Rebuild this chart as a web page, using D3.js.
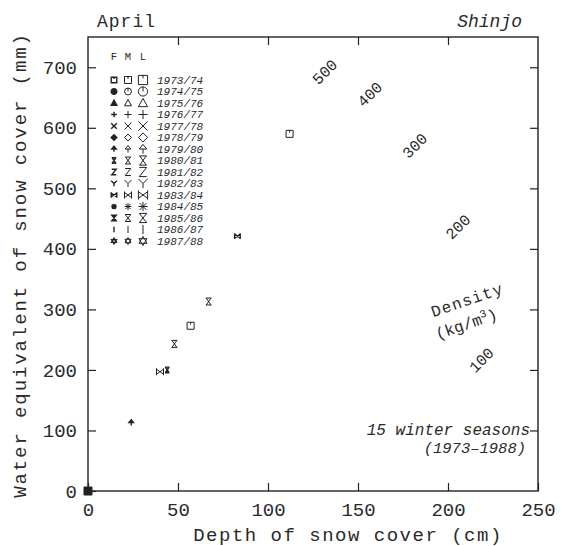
<!DOCTYPE html>
<html>
<head>
<meta charset="utf-8">
<script src="https://cdn.jsdelivr.net/npm/d3@7"></script>
<style>
  html, body { margin: 0; padding: 0; background: #fff; }
  svg { display: block; }
  text { font-family: "Liberation Mono", "DejaVu Sans Mono", monospace; fill: #2a2a2a; }
</style>
</head>
<body>
<svg id="chart" width="567" height="546"></svg>
<script>
// ---------------- data ----------------
const seasons = ["1973/74","1974/75","1975/76","1976/77","1977/78","1978/79","1979/80",
                 "1980/81","1981/82","1982/83","1983/84","1984/85","1985/86","1986/87","1987/88"];
const seasonSymbols = ["sqDot","circTick","triangle","plus","cross","diamond","arrow",
                       "xBars","zed","wye","xSideBars","asterisk","hourglass","bar","star"];
const periods = ["F","M","L"];

// observed points (depth cm, water equivalent mm)
const pointDepth  = [0,   24,  40,  44,  48,  57,  67,  83,  112];
const pointSWE    = [0,   113, 197, 200, 243, 273, 313, 421, 590];
const pointSymbol = ["filledSquare","arrow","xSideBars","xBars","xBars","sqDot","xBars","xSideBars","sqDot"];
const pointPeriod = ["L","F","M","F","M","M","M","F","M"];

// density isoline labels (kg/m3) and their anchor (depth, SWE)
const densityValues = [500, 400, 300, 200, 100];
const densityLabelDepth = [132, 157, 182, 206, 219];
const densityLabelSWE   = [691, 654, 569, 435, 215];

const xTicks = [0, 50, 100, 150, 200, 250];
const yTicks = [0, 100, 200, 300, 400, 500, 600, 700];

// ---------------- chart ----------------
const svg = d3.select("#chart");
const x = d3.scaleLinear().domain([0, 250]).range([88, 538]);
const y = d3.scaleLinear().domain([0, 750]).range([491, 37]);
const ink = "#222";
const FONT = "'Liberation Mono', 'DejaVu Sans Mono', monospace";

// frame
svg.append("rect")
  .attr("x", x(0)).attr("y", y(750))
  .attr("width", x(250) - x(0)).attr("height", y(0) - y(750))
  .attr("fill", "none").attr("stroke", ink).attr("stroke-width", 1.4);

function styleAxis(g, labels) {
  g.select(".domain").remove();
  g.selectAll(".tick line").attr("stroke", ink).attr("stroke-width", 1.2);
  g.selectAll(".tick text")
    .style("font-family", FONT)
    .attr("font-size", 19).attr("fill", "#2a2a2a");
  if (!labels) g.selectAll(".tick text").remove();
}

svg.append("g").attr("transform", `translate(${x(0)},0)`)
  .call(d3.axisLeft(y).tickValues(yTicks).tickSize(-8).tickPadding(11).tickFormat(d3.format("d")))
  .call(g => styleAxis(g, true));
svg.append("g").attr("transform", `translate(${x(250)},0)`)
  .call(d3.axisRight(y).tickValues(yTicks.filter(d => d > 0)).tickSize(-8))
  .call(g => styleAxis(g, false));
svg.append("g").attr("transform", `translate(0,${y(0)})`)
  .call(d3.axisBottom(x).tickValues(xTicks).tickSize(-8).tickPadding(12).tickFormat(d3.format("d")))
  .call(g => styleAxis(g, true));
svg.append("g").attr("transform", `translate(0,${y(750)})`)
  .call(d3.axisTop(x).tickValues(xTicks.filter(d => d > 0 && d < 250)).tickSize(-8))
  .call(g => styleAxis(g, false));

// axis titles
svg.append("text")
  .attr("transform", `translate(26,${(y(0) + y(750)) / 2 + 1}) rotate(-90)`)
  .attr("text-anchor", "middle").attr("font-size", 19)
  .style("letter-spacing", "1.9px")
  .text("Water equivalent of snow cover (mm)");
svg.append("text")
  .attr("x", 348).attr("y", 541)
  .attr("text-anchor", "middle").attr("font-size", 19)
  .style("letter-spacing", "1.5px")
  .text("Depth of snow cover (cm)");

svg.append("text").attr("x", 97).attr("y", 27).attr("font-size", 18)
  .style("letter-spacing", "1px").text("April");
svg.append("text").attr("x", 522).attr("y", 27).attr("font-size", 18)
  .attr("text-anchor", "end").attr("font-style", "italic").text("Shinjo");

// ---------------- symbols ----------------
function symPath(type, s) {
  const p = d3.path();
  switch (type) {
    case "sqDot":
      p.rect(-s, -s, 2 * s, 2 * s);
      p.moveTo(0, -s); p.lineTo(0, -s * 0.35);
      break;
    case "filledSquare":
      p.rect(-s, -s, 2 * s, 2 * s);
      break;
    case "circTick":
      p.moveTo(s, 0); p.arc(0, 0, s, 0, 2 * Math.PI);
      p.moveTo(0, -s); p.lineTo(0, 0);
      break;
    case "triangle":
      p.moveTo(0, -s); p.lineTo(s, s * 0.8); p.lineTo(-s, s * 0.8); p.closePath();
      break;
    case "plus":
      p.moveTo(-s, 0); p.lineTo(s, 0); p.moveTo(0, -s); p.lineTo(0, s);
      break;
    case "cross":
      p.moveTo(-s, -s); p.lineTo(s, s); p.moveTo(s, -s); p.lineTo(-s, s);
      break;
    case "diamond":
      p.moveTo(0, -s); p.lineTo(s, 0); p.lineTo(0, s); p.lineTo(-s, 0); p.closePath();
      break;
    case "arrow":
      p.moveTo(0, -s); p.lineTo(s * 0.8, 0); p.lineTo(-s * 0.8, 0); p.closePath();
      p.moveTo(0, 0); p.lineTo(0, s);
      break;
    case "xBars":
      p.moveTo(-s * 0.8, -s); p.lineTo(s * 0.8, -s);
      p.moveTo(-s * 0.8, s); p.lineTo(s * 0.8, s);
      p.moveTo(-s * 0.7, -s); p.lineTo(s * 0.7, s);
      p.moveTo(s * 0.7, -s); p.lineTo(-s * 0.7, s);
      break;
    case "zed":
      p.moveTo(-s * 0.8, -s); p.lineTo(s * 0.8, -s); p.lineTo(-s * 0.8, s); p.lineTo(s * 0.8, s);
      break;
    case "wye":
      p.moveTo(-s, -s); p.lineTo(0, 0); p.lineTo(s, -s); p.moveTo(0, 0); p.lineTo(0, s);
      break;
    case "xSideBars":
      p.moveTo(-s, -s); p.lineTo(-s, s); p.moveTo(s, -s); p.lineTo(s, s);
      p.moveTo(-s, -s * 0.7); p.lineTo(s, s * 0.7);
      p.moveTo(s, -s * 0.7); p.lineTo(-s, s * 0.7);
      break;
    case "asterisk":
      p.moveTo(-s, 0); p.lineTo(s, 0); p.moveTo(0, -s); p.lineTo(0, s);
      p.moveTo(-s * 0.75, -s * 0.75); p.lineTo(s * 0.75, s * 0.75);
      p.moveTo(s * 0.75, -s * 0.75); p.lineTo(-s * 0.75, s * 0.75);
      break;
    case "hourglass":
      p.moveTo(-s * 0.8, -s); p.lineTo(s * 0.8, -s); p.lineTo(-s * 0.8, s); p.lineTo(s * 0.8, s); p.closePath();
      break;
    case "bar":
      p.moveTo(0, -s); p.lineTo(0, s);
      break;
    case "star":
      p.moveTo(0, -s); p.lineTo(s * 0.87, s * 0.5); p.lineTo(-s * 0.87, s * 0.5); p.closePath();
      p.moveTo(0, s); p.lineTo(s * 0.87, -s * 0.5); p.lineTo(-s * 0.87, -s * 0.5); p.closePath();
      break;
  }
  return p.toString();
}
const fillable = new Set(["triangle","diamond","arrow","hourglass","star","filledSquare","circTick"]);
const sizeOf = { F: 2.8, M: 3.5, L: 4.6 };
function drawSymbol(g, type, period, cx, cy) {
  const filled = type === "filledSquare" || (period === "F" && fillable.has(type));
  g.append("path")
    .attr("transform", `translate(${cx},${cy})`)
    .attr("d", symPath(type, type === "filledSquare" ? 4 : sizeOf[period]))
    .attr("fill", filled ? ink : "none")
    .attr("stroke", ink)
    .attr("stroke-width", period === "F" ? 1.4 : 1.0)
    .attr("stroke-linejoin", "miter");
}

// ---------------- legend ----------------
const legend = svg.append("g");
const colX = { F: 114, M: 128, L: 143 };
periods.forEach(pr => {
  legend.append("text").attr("x", colX[pr]).attr("y", 60)
    .attr("text-anchor", "middle").attr("font-size", 10.5).text(pr);
});
seasons.forEach((s, i) => {
  const cy = 80 + i * 11.5;
  periods.forEach(pr => drawSymbol(legend, seasonSymbols[i], pr, colX[pr], cy));
  legend.append("text").attr("x", 157).attr("y", cy + 3.8)
    .attr("font-size", 11).attr("font-style", "italic").text(s);
});

// ---------------- data points ----------------
const pts = svg.append("g");
pointDepth.forEach((d, i) => {
  drawSymbol(pts, pointSymbol[i], pointPeriod[i], x(d), y(pointSWE[i]));
});

// ---------------- density annotations ----------------
densityValues.forEach((v, i) => {
  svg.append("text")
    .attr("transform", `translate(${x(densityLabelDepth[i])},${y(densityLabelSWE[i])}) rotate(-45)`)
    .attr("text-anchor", "middle").attr("dominant-baseline", "central")
    .attr("font-size", 15.5).text(v);
});
svg.append("text")
  .attr("transform", `translate(469,305) rotate(-19)`)
  .attr("text-anchor", "middle").attr("font-size", 16).style("letter-spacing", "1.2px")
  .text("Density");
const kg = svg.append("text")
  .attr("transform", `translate(468,329) rotate(-19)`)
  .attr("text-anchor", "middle").attr("font-size", 16);
kg.append("tspan").text("(kg/m");
kg.append("tspan").attr("font-size", 11).attr("dy", -6).text("3");
kg.append("tspan").attr("dy", 6).text(")");

svg.append("text").attr("x", 530).attr("y", 435)
  .attr("text-anchor", "end").attr("font-size", 16).attr("font-style", "italic")
  .text("15 winter seasons");
svg.append("text").attr("x", 526).attr("y", 453)
  .attr("text-anchor", "end").attr("font-size", 15.5).attr("font-style", "italic")
  .text("(1973\u20131988)");
</script>
</body>
</html>
